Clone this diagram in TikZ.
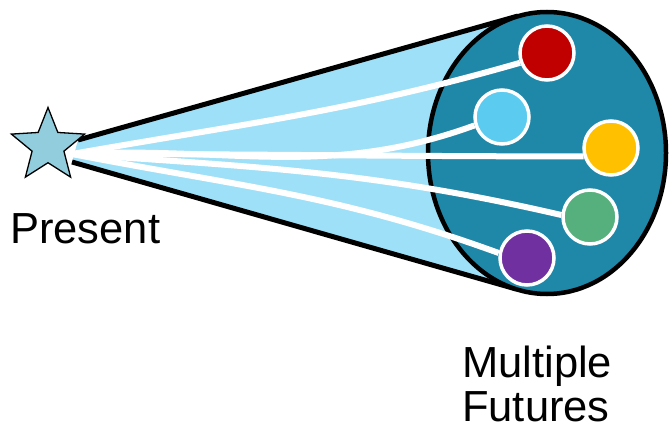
\documentclass[tikz,border=0pt]{standalone}
\usepackage{fontspec}
\setmainfont{Liberation Sans}
\usetikzlibrary{shapes.geometric,backgrounds}
\definecolor{conefill}{RGB}{158,224,247}
\definecolor{bundle}{RGB}{31,135,168}
\definecolor{starfill}{RGB}{146,205,222}
\definecolor{futred}{RGB}{192,0,0}
\definecolor{futsky}{RGB}{91,203,240}
\definecolor{futgold}{RGB}{255,192,0}
\definecolor{futjade}{RGB}{85,176,125}
\definecolor{futplum}{RGB}{112,48,160}

\begin{document}
\begin{tikzpicture}[x=1pt,y=-1pt,
    future/.style={circle,draw=white,line width=3.5pt,minimum size=54pt,inner sep=0pt},
    strand/.style={white,line width=6pt},
    label/.style={inner sep=0pt,font=\fontsize{43.5}{47}\selectfont}]
    \useasboundingbox (0,0) rectangle (669,428);
    \foreach \nm/\x/\y/\col in {red/547/53/futred,sky/502/117/futsky,gold/611/148/futgold,jade/590/217/futjade,plum/527/258/futplum}
        \node[future,fill=\col] (\nm) at (\x,\y) {};
    \node[star,star points=5,star point ratio=2.3,minimum size=77pt,inner sep=0pt,fill=starfill,draw,line width=1.3pt] (present) at (48,146) {};
    \coordinate (src) at (72,154);
    \begin{scope}[on background layer]
        \fill[conefill] (78,140) -- (518,16) -- (516,289) -- (72,162) -- cycle;
        \draw[line width=5pt] (78,140) -- (518,16) (72,162) -- (516,289);
        \node[ellipse,draw,line width=4.5pt,fill=bundle,minimum width=238pt,minimum height=282pt] (cloud) at (547,153) {};
        \foreach \nm/\o/\i/\a in {red/10/196/200,sky/3/200/197,gold/0/180/197,jade/-4/167/176,plum/-11/160/170}
            \draw[strand] (src) to[out=\o,in=\i] (\nm.\a);
    \end{scope}
    \node[label,anchor=base west] (now) at (10,243) {Present};
    \node[label,anchor=base west] (later) at (462,377) {Multiple};
    \node[label,anchor=base west] (later2) at (462,421) {Futures};
\end{tikzpicture}
\end{document}
